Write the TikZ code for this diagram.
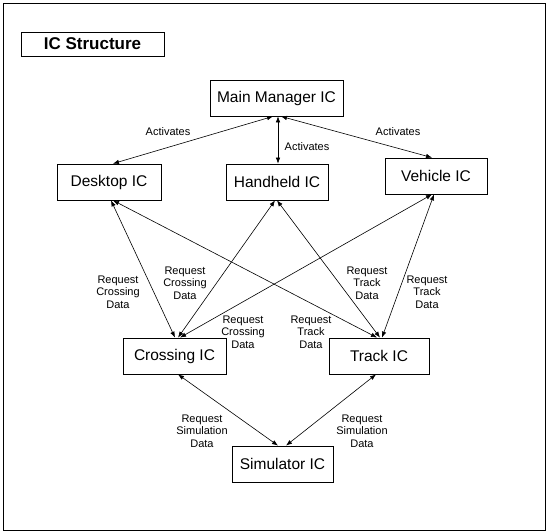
\documentclass[tikz,border=0pt]{standalone}
\usepackage{fontspec}
\setmainfont{Liberation Sans}
\usetikzlibrary{arrows.meta}
\newcommand{\request}[1]{Request\\#1\\Data}
\newcommand{\lineWidth}[0]{0.8pt}

\begin{document}
\begin{tikzpicture}[x=1pt, y=-1pt, line width=\lineWidth]
  \tikzset{icbox/.style={draw, minimum height=36pt, inner sep=0pt, font=\fontsize{15.5}{18}\selectfont},
    lbl/.style={align=center, inner sep=0pt, font=\fontsize{11}{12.5}\selectfont},
    link/.style={{Latex[length=6pt,width=4.5pt]}-{Latex[length=6pt,width=4.5pt]}, line width=0.6pt}}
  \useasboundingbox (0,0) rectangle (550,532);
  \draw (3,3) rectangle (545,530);
  \node[draw, minimum width=143pt, minimum height=24pt, inner sep=0pt,
    font=\fontsize{17}{20}\selectfont\bfseries] (title) at (92.5,44) {IC Structure};
  \node[icbox, minimum width=133pt] (main) at (276.5,98) {Main Manager IC};
  \node[icbox, minimum width=104pt] (desktop) at (109,182) {Desktop IC};
  \node[icbox, minimum width=102pt] (handheld) at (277,182) {Handheld IC};
  \node[icbox, minimum width=102pt] (vehicle) at (436,176) {Vehicle IC};
  \node[icbox, minimum width=103pt] (crossing) at (174.5,356) {Crossing IC};
  \node[icbox, minimum width=100pt] (track) at (379,356) {Track IC};
  \node[icbox, minimum width=101pt] (simulator) at (282.5,464) {Simulator IC};
  \draw[link] ([xshift=-3.5pt]main.south) -- ([xshift=4pt]desktop.north);
  \draw[link] ([xshift=1.5pt]main.south) -- ([xshift=1pt]handheld.north);
  \draw[link] ([xshift=4.5pt]main.south) -- ([xshift=-4pt]vehicle.north);
  \draw[link] ([xshift=2pt]desktop.south) -- ([xshift=0.5pt]crossing.north);
  \draw[link] ([xshift=4pt]desktop.south) -- ([xshift=-2pt]track.north);
  \draw[link] ([xshift=-2pt]handheld.south) -- ([xshift=3.5pt]crossing.north);
  \draw[link] (handheld.south) -- ([xshift=1pt]track.north);
  \draw[link] ([xshift=-4pt]vehicle.south) -- ([xshift=5.5pt]crossing.north);
  \draw[link] ([xshift=-2pt]vehicle.south) -- ([xshift=3pt]track.north);
  \draw[link] ([xshift=3.5pt]crossing.south) -- ([xshift=-4.5pt]simulator.north);
  \draw[link] ([xshift=-3pt]track.south) -- ([xshift=3.5pt]simulator.north);
  \node[lbl] (actdesk) at (168,132) {Activates};
  \node[lbl] (acthand) at (307,147) {Activates};
  \node[lbl] (actveh) at (398,132) {Activates};
  \node[lbl] (reqcrossa) at (118,292) {\request{Crossing}};
  \node[lbl] (reqcrossb) at (185,283) {\request{Crossing}};
  \node[lbl] (reqcrossc) at (243,332) {\request{Crossing}};
  \node[lbl] (reqtracka) at (311,332) {\request{Track}};
  \node[lbl] (reqtrackb) at (367,283) {\request{Track}};
  \node[lbl] (reqtrackc) at (427,292) {\request{Track}};
  \node[lbl] (reqsima) at (202,431) {\request{Simulation}};
  \node[lbl] (reqsimb) at (362,431) {\request{Simulation}};
\end{tikzpicture}
\end{document}
